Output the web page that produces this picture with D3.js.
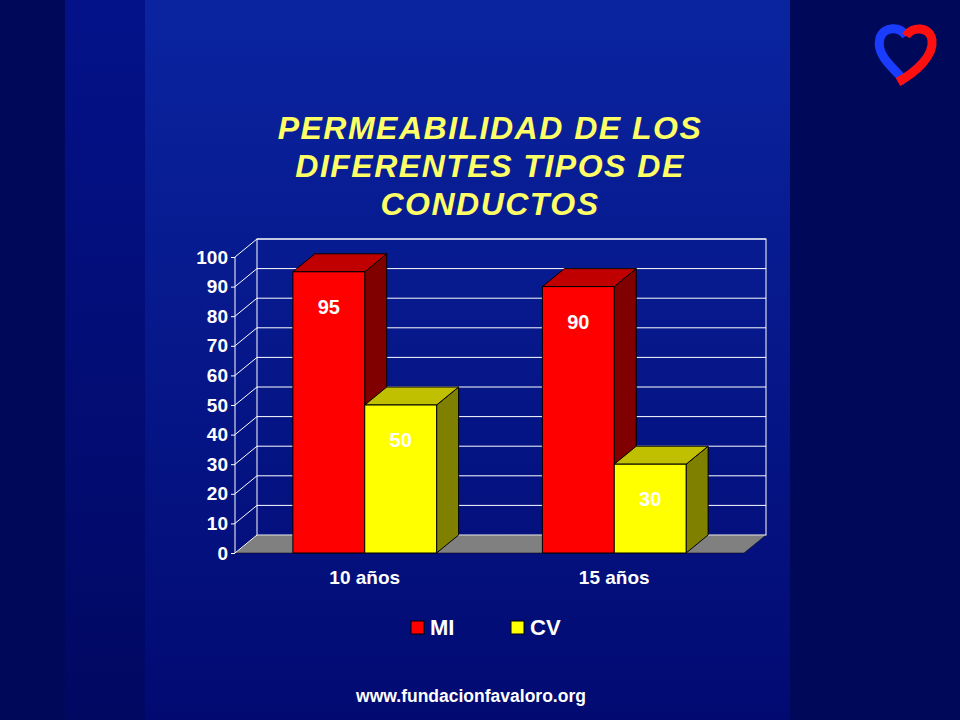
<!DOCTYPE html><html><head><meta charset="utf-8"><script src="https://cdn.jsdelivr.net/npm/d3@7"></script>
<style>body{margin:0;background:#000050}svg{display:block}</style></head><body><svg id="c" width="960" height="720"></svg>
<script>
const categories=["10 años","15 años"];
const seriesNames=["MI","CV"];
const miValues=[95,90];
const cvValues=[50,30];
const yTicks=[0,10,20,30,40,50,60,70,80,90,100];
const titleLines=["PERMEABILIDAD DE LOS","DIFERENTES TIPOS DE","CONDUCTOS"];

const svg=d3.select("#c");
const defs=svg.append("defs");
const g1=defs.append("linearGradient").attr("id","bg").attr("x1",0).attr("y1",0).attr("x2",0).attr("y2",1);
g1.append("stop").attr("offset","0").attr("stop-color","#0a24a0");
g1.append("stop").attr("offset","1").attr("stop-color","#020a72");
const g2=defs.append("linearGradient").attr("id","side").attr("x1",0).attr("y1",0).attr("x2",0).attr("y2",1);
g2.append("stop").attr("offset","0").attr("stop-color","#04128a");
g2.append("stop").attr("offset","1").attr("stop-color","#010862");
svg.append("rect").attr("width",960).attr("height",720).attr("fill","#00085a");
svg.append("rect").attr("x",65).attr("width",80).attr("height",720).attr("fill","url(#side)");
svg.append("rect").attr("x",145).attr("width",645).attr("height",720).attr("fill","url(#bg)");

// logo
const lg=svg.append("g").attr("transform","translate(906,52)");
lg.append("path").attr("d","M0,30 C-20,10 -30,0 -26,-14 C-22,-26 -6,-26 0,-16").attr("fill","none").attr("stroke","#1a3cff").attr("stroke-width",9);
lg.append("path").attr("d","M0,-16 C6,-26 24,-26 26,-12 C28,4 10,20 -8,30").attr("fill","none").attr("stroke","#ff1010").attr("stroke-width",9);

svg.append("g").selectAll("text").data(titleLines).join("text")
 .attr("x",490).attr("y",(d,i)=>139+i*38).attr("text-anchor","middle")
 .attr("font-family","Liberation Sans, Arial").attr("font-weight","bold").attr("font-style","italic")
 .attr("font-size",32).attr("letter-spacing",1.5).attr("fill","#ffff66").text(d=>d);

const x0=235,x1=744,dx=22,dy=-18;
const y=d3.scaleLinear().domain([0,100]).range([553,257]);
const x=d3.scaleBand().domain(categories).range([x0,x1]).paddingInner(0.424).paddingOuter(0.232);
const xs=d3.scaleBand().domain(seriesNames).range([0,x.bandwidth()]);

const ch=svg.append("g");
ch.append("path").attr("d",`M${x0},${y(0)} L${x0+dx},${y(0)+dy} L${x1+dx},${y(0)+dy} L${x1},${y(0)} Z`).attr("fill","#808080").attr("stroke","#000").attr("stroke-width",0.5);
ch.append("rect").attr("x",x0+dx).attr("y",y(100)+dy).attr("width",x1-x0).attr("height",y(0)-y(100)).attr("fill","none").attr("stroke","#fff").attr("stroke-width",1);
yTicks.forEach(t=>{
 if(t>0) ch.append("line").attr("x1",x0+dx).attr("x2",x1+dx).attr("y1",y(t)+dy).attr("y2",y(t)+dy).attr("stroke","#fff");
 ch.append("line").attr("x1",x0).attr("x2",x0+dx).attr("y1",y(t)).attr("y2",y(t)+dy).attr("stroke","#fff");
});
ch.append("line").attr("x1",x0).attr("x2",x0).attr("y1",y(0)).attr("y2",y(100)).attr("stroke","#fff");
const ax=svg.append("g").attr("transform",`translate(${x0},0)`).call(d3.axisLeft(y).tickValues(yTicks).tickSize(4).tickPadding(3));
ax.select(".domain").remove();
ax.selectAll("line").attr("stroke","#fff");
ax.selectAll("text").attr("fill","#fff").attr("font-family","Liberation Sans, Arial").attr("font-weight","bold").attr("font-size",19);

const cols={MI:["#ff0000","#c00000","#800000"],CV:["#ffff00","#c0c000","#808000"]};
const data=[];
categories.forEach((c,i)=>{data.push({c,s:"MI",v:miValues[i]});data.push({c,s:"CV",v:cvValues[i]});});
data.forEach(d=>{
 const bx=x(d.c)+xs(d.s),w=xs.bandwidth(),top=y(d.v),bot=y(0),col=cols[d.s];
 const g=svg.append("g").attr("stroke","#000").attr("stroke-width",1);
 g.append("path").attr("d",`M${bx+w},${top} L${bx+w+dx},${top+dy} L${bx+w+dx},${bot+dy} L${bx+w},${bot} Z`).attr("fill",col[2]);
 g.append("path").attr("d",`M${bx},${top} L${bx+dx},${top+dy} L${bx+w+dx},${top+dy} L${bx+w},${top} Z`).attr("fill",col[1]);
 g.append("rect").attr("x",bx).attr("y",top).attr("width",w).attr("height",bot-top).attr("fill",col[0]);
 svg.append("text").attr("x",bx+w/2).attr("y",top+42).attr("text-anchor","middle")
  .attr("font-family","Liberation Sans, Arial").attr("font-weight","bold").attr("font-size",20).attr("fill","#fff").text(d.v);
});
svg.append("g").selectAll("text").data(categories).join("text").attr("x",d=>x(d)+x.bandwidth()/2).attr("y",584)
 .attr("text-anchor","middle").attr("font-family","Liberation Sans, Arial").attr("font-weight","bold").attr("font-size",19).attr("fill","#fff").text(d=>d);

const leg=svg.append("g").selectAll("g").data(seriesNames).join("g").attr("transform",(d,i)=>`translate(${411+i*100},621)`);
leg.append("rect").attr("width",13).attr("height",13).attr("fill",d=>cols[d][0]).attr("stroke","#000");
leg.append("text").attr("x",19).attr("y",14).attr("font-family","Liberation Sans, Arial").attr("font-weight","bold").attr("font-size",22).attr("fill","#fff").text(d=>d);

svg.append("text").attr("x",471).attr("y",702).attr("text-anchor","middle").attr("font-family","Liberation Sans, Arial").attr("font-weight","bold").attr("font-size",17.5).attr("fill","#fff").text("www.fundacionfavaloro.org");
</script></body></html>
